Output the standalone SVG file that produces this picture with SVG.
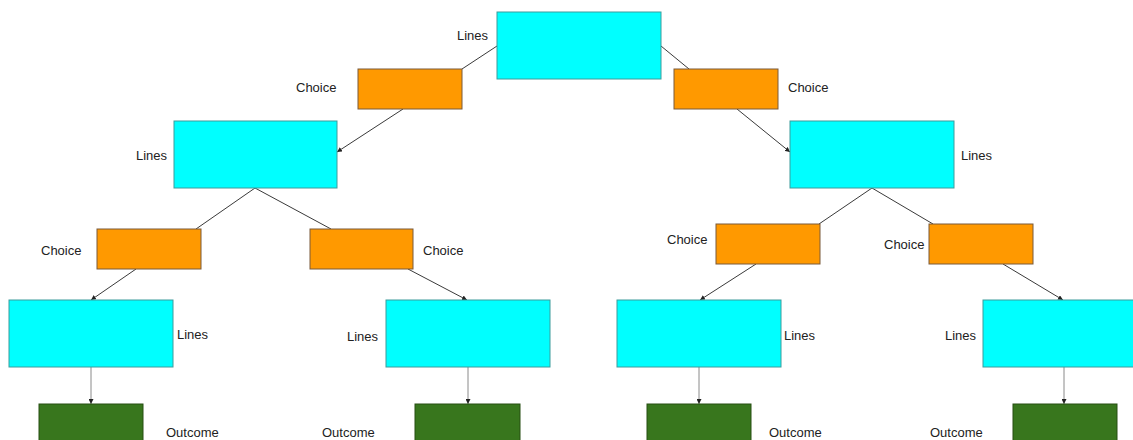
<svg xmlns="http://www.w3.org/2000/svg" width="1133" height="440" viewBox="0 0 1133 440">
<defs>
<marker id="ah" viewBox="0 0 6 6" refX="6" refY="3" markerWidth="5" markerHeight="5" orient="auto" markerUnits="userSpaceOnUse">
<path d="M0,0 L6,3 L0,6 z" fill="#222"/>
</marker>
<style>
.c{fill:#00FFFF;stroke:#3d9c9c;stroke-width:1}
.o{fill:#FF9900;stroke:#7a5a3a;stroke-width:1}
.g{fill:#38761D;stroke:#274e13;stroke-width:1}
.e{stroke:#3a3a3a;stroke-width:1;fill:none}
.v{stroke:#8a8a8a;stroke-width:1;fill:none}
text{font-family:"Liberation Sans",Arial,sans-serif;font-size:13px;fill:#222}
</style>
</defs>
<rect width="1133" height="440" fill="#fff"/>
<g id="connectors">
<line class="e" x1="497" y1="46" x2="462" y2="69"/>
<line class="e" x1="403" y1="109" x2="337" y2="152" marker-end="url(#ah)"/>
<line class="e" x1="661" y1="46" x2="689" y2="69"/>
<line class="e" x1="737" y1="109" x2="790" y2="152" marker-end="url(#ah)"/>
<line class="e" x1="255" y1="188" x2="196" y2="229"/>
<line class="e" x1="255" y1="188" x2="331" y2="229"/>
<line class="e" x1="136" y1="269" x2="91" y2="300" marker-end="url(#ah)"/>
<line class="e" x1="408" y1="269" x2="467" y2="300" marker-end="url(#ah)"/>
<line class="v" x1="91" y1="367" x2="91" y2="404" marker-end="url(#ah)"/>
<line class="v" x1="468" y1="367" x2="468" y2="404" marker-end="url(#ah)"/>
<line class="e" x1="872" y1="188" x2="819" y2="224"/>
<line class="e" x1="872" y1="188" x2="933" y2="224"/>
<line class="e" x1="756" y1="264" x2="700" y2="300" marker-end="url(#ah)"/>
<line class="e" x1="1003" y1="264" x2="1063" y2="300" marker-end="url(#ah)"/>
<line class="v" x1="699" y1="367" x2="699" y2="404" marker-end="url(#ah)"/>
<line class="v" x1="1064" y1="367" x2="1064" y2="404" marker-end="url(#ah)"/>
</g>
<g id="n-root"><rect class="c" x="497" y="12" width="164" height="67"/><text x="457" y="40">Lines</text></g>
<g id="n-choice-l"><rect class="o" x="358" y="69" width="104" height="40"/><text x="296" y="92">Choice</text></g>
<g id="n-choice-r"><rect class="o" x="674" y="69" width="104" height="40"/><text x="788" y="92">Choice</text></g>
<g id="n-lines-l"><rect class="c" x="174" y="121" width="163" height="67"/><text x="136" y="160">Lines</text></g>
<g id="n-lines-r"><rect class="c" x="790" y="121" width="164" height="67"/><text x="961" y="160">Lines</text></g>
<g id="n-choice-ll"><rect class="o" x="97" y="229" width="104" height="40"/><text x="41" y="255">Choice</text></g>
<g id="n-choice-lr"><rect class="o" x="310" y="229" width="103" height="40"/><text x="423" y="255">Choice</text></g>
<g id="n-choice-rl"><rect class="o" x="716" y="224" width="104" height="40"/><text x="667" y="244">Choice</text></g>
<g id="n-choice-rr"><rect class="o" x="929" y="224" width="104" height="40"/><text x="884" y="249">Choice</text></g>
<g id="n-lines-ll"><rect class="c" x="9" y="300" width="164" height="67"/><text x="177" y="339">Lines</text></g>
<g id="n-lines-lr"><rect class="c" x="386" y="300" width="164" height="67"/><text x="347" y="341">Lines</text></g>
<g id="n-lines-rl"><rect class="c" x="617" y="300" width="164" height="67"/><text x="784" y="340">Lines</text></g>
<g id="n-lines-rr"><rect class="c" x="983" y="300" width="164" height="67"/><text x="945" y="340">Lines</text></g>
<g id="n-out-1"><rect class="g" x="39" y="404" width="104" height="50"/><text x="166" y="437">Outcome</text></g>
<g id="n-out-2"><rect class="g" x="415" y="404" width="105" height="50"/><text x="322" y="437">Outcome</text></g>
<g id="n-out-3"><rect class="g" x="647" y="404" width="104" height="50"/><text x="769" y="437">Outcome</text></g>
<g id="n-out-4"><rect class="g" x="1013" y="404" width="104" height="50"/><text x="930" y="437">Outcome</text></g>
</svg>
